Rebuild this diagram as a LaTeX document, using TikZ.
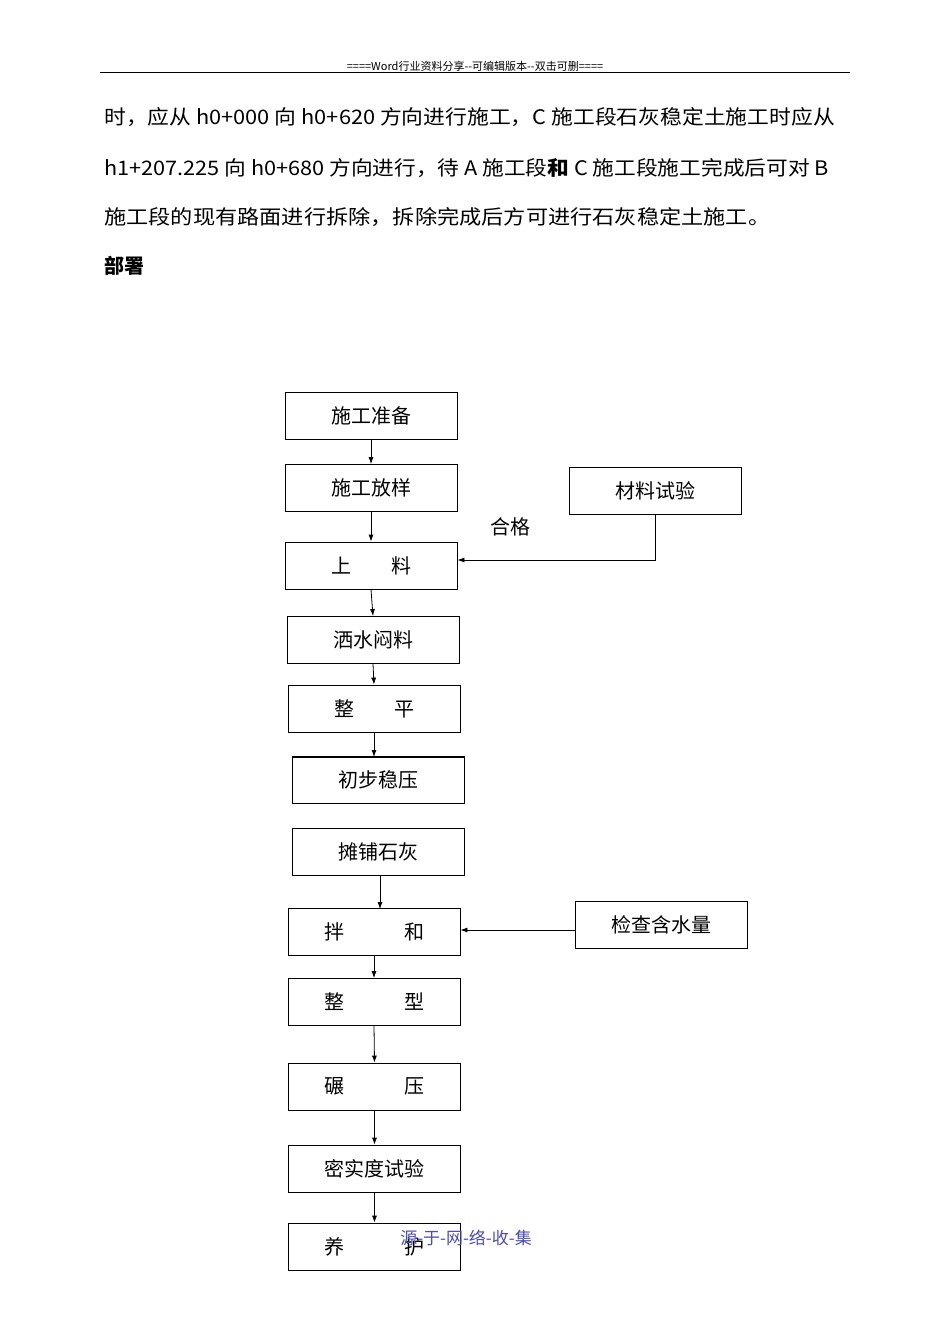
\documentclass[tikz,border=0pt]{standalone}
\usepackage{fontspec}
\usepackage{graphicx}
\newfontfamily\cjk{Noto Sans CJK SC}
\begin{document}
\begin{tikzpicture}[x=1pt,y=-1pt,
  bx/.style={draw,line width=0.8pt,minimum width=172pt,minimum height=47pt,inner sep=0pt,font=\cjk\fontsize{20}{20}\selectfont},
  ar/.style={-{Latex[length=7pt,width=5pt]},line width=0.8pt}]
\usetikzlibrary{arrows.meta}
\useasboundingbox[fill=white] (0,0) rectangle (950,1344);
\node[font=\cjk\fontsize{11}{11}\selectfont] (hd) at (475,66) {====Word行业资料分享--可编辑版本--双击可删====};
\draw[line width=0.6pt] (100,72) -- (850,72);
\begin{scope}[every node/.style={anchor=west,inner sep=0pt,font=\cjk\fontsize{20}{20}\selectfont}]
\node (p1) at (104,117) {\scalebox{1.09}[1]{时，应从 h0+000 向 h0+620 方向进行施工，C 施工段石灰稳定土施工时应从}};
\node (p2) at (104,168) {\scalebox{1.085}[1]{h1+207.225 向 h0+680 方向进行，待 A 施工段\textbf{和} C 施工段施工完成后可对 B}};
\node (p3) at (104,217) {\scalebox{1.11}[1]{施工段的现有路面进行拆除，拆除完成后方可进行石灰稳定土施工。}};
\node[font=\cjk\bfseries\fontsize{20}{20}\selectfont] (p4) at (104,266) {部署};
\end{scope}
\node[bx] (b1) at (371,415.5) {施工准备};
\node[bx] (b2) at (371,488) {施工放样};
\node[bx] (m) at (655,491) {材料试验};
\node[bx] (b3) at (371,565.5) {上\hspace{2em}料};
\node[bx] (b4) at (373,640) {洒水闷料};
\node[bx] (b5) at (374,708.5) {整\hspace{2em}平};
\node[bx] (b6) at (378.5,779.5) {初步稳压};
\draw[line width=1.6pt] (293,757) -- (464,757);
\node[bx] (b7) at (378,852) {摊铺石灰};
\node[bx] (b8) at (374,932) {拌\hspace{3em}和};
\node[bx] (w) at (661,924.5) {检查含水量};
\node[bx] (b9) at (374,1002) {整\hspace{3em}型};
\node[bx] (b10) at (374.5,1086.5) {碾\hspace{3em}压};
\node[bx] (b11) at (374.5,1168.5) {密实度试验};
\node[bx] (b12) at (374.5,1246.5) {养\hspace{3em}护};
\draw[ar] (b1.south) -- (b2.north);
\draw[ar] (b2.south) -- (b3.north);
\draw[ar] (b3.south) -- (b4.north);
\draw[ar] (b4.south) -- (b5.north);
\draw[ar] (b5.south) -- (374,757);
\draw[ar] (b7.south -| 380,0) -- (380,909);
\draw[ar] (b8.south) -- (b9.north);
\draw[ar] (b9.south) -- (b10.north);
\draw[ar] (b10.south) -- (b11.north);
\draw[ar] (b11.south) -- (b12.north);
\draw[ar] (m.south) -- (655,560) -- (b3.east |- 0,560);
\node[font=\cjk\fontsize{20}{20}\selectfont] (hg) at (510,527) {合格};
\draw[ar] (w.west |- 0,930) -- (b8.east |- 0,930);
\node[font=\cjk\fontsize{17}{17}\selectfont,text=blue!40!gray] (ft) at (466,1238) {源-于-网-络-收-集};
\end{tikzpicture}
\end{document}
